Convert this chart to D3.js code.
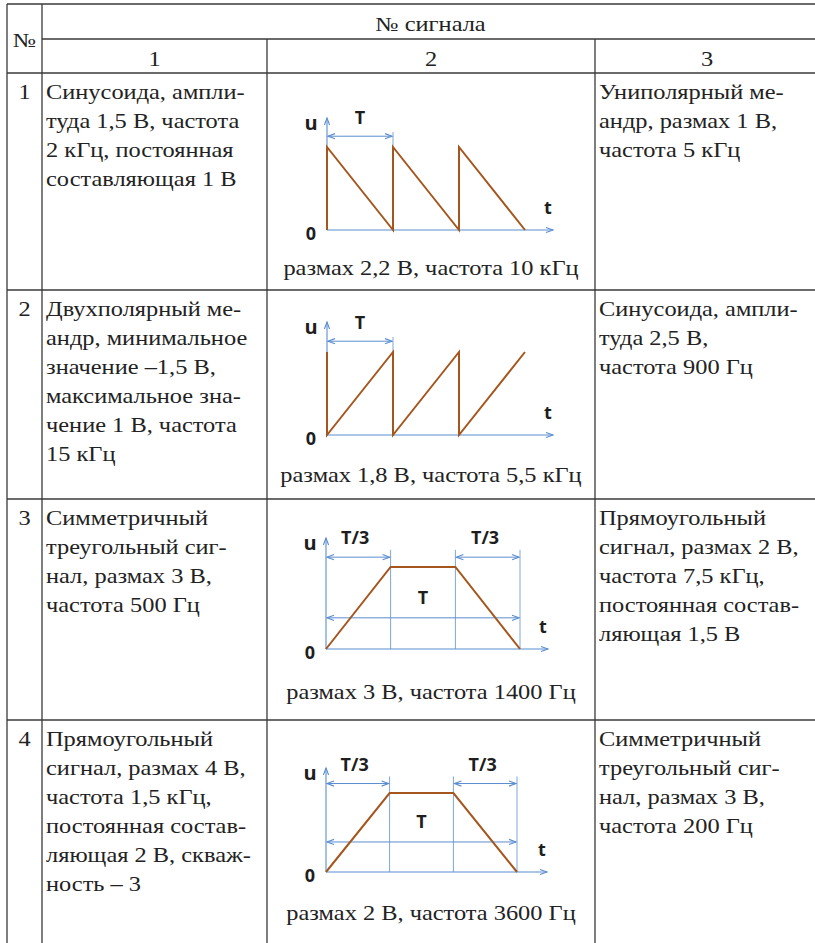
<!DOCTYPE html>
<html>
<head>
<meta charset="utf-8">
<script src="https://cdn.jsdelivr.net/npm/d3@7"></script>
<style>
  body { margin: 0; background: #fff; }
  svg { display: block; }
  .serif { font-family: 'Liberation Serif', 'Times New Roman', serif; font-size: 20px; fill: #222; }
  .lab { font-family: 'Open Sans', 'DejaVu Sans', sans-serif; font-weight: 700; font-size: 18px; fill: #1e1e1e; }
</style>
</head>
<body>
<svg id="chart" width="815" height="943"></svg>
<script>
// table content
const rowNums = ['1', '2', '3', '4'];
const colHeads = ['1', '2', '3'];
const headTitle = '№ сигнала';
const col1Text = [
  ['Синусоида, ампли-', 'туда 1,5 В, частота', '2 кГц, постоянная', 'составляющая 1 В'],
  ['Двухполярный ме-', 'андр, минимальное', 'значение –1,5 В,', 'максимальное зна-', 'чение 1 В, частота', '15 кГц'],
  ['Симметричный', 'треугольный сиг-', 'нал, размах 3 В,', 'частота 500 Гц'],
  ['Прямоугольный', 'сигнал, размах 4 В,', 'частота 1,5 кГц,', 'постоянная состав-', 'ляющая 2 В, скваж-', 'ность – 3']
];
const col3Text = [
  ['Униполярный ме-', 'андр, размах 1 В,', 'частота 5 кГц'],
  ['Синусоида, ампли-', 'туда 2,5 В,', 'частота 900 Гц'],
  ['Прямоугольный', 'сигнал, размах 2 В,', 'частота 7,5 кГц,', 'постоянная состав-', 'ляющая 1,5 В'],
  ['Симметричный', 'треугольный сиг-', 'нал, размах 3 В,', 'частота 200 Гц']
];
const captions = [
  'размах 2,2 В, частота 10 кГц',
  'размах 1,8 В, частота 5,5 кГц',
  'размах 3 В, частота 1400 Гц',
  'размах 2 В, частота 3600 Гц'
];

// waveforms, t in periods, u normalised to peak
const waveKinds = ['sawDown', 'sawUp', 'trap', 'trap'];
const sawDown = [[0, 0], [0, 1], [1, 0], [1, 1], [2, 0], [2, 1], [3, 0]];
const sawUp = [[0, 1], [0, 0], [1, 1], [1, 0], [2, 1], [2, 0], [3, 1]];
const trap = [[0, 0], [0.333, 1], [0.667, 1], [1, 0]];
const waves = { sawDown, sawUp, trap };

// layout
const W = 815, H = 943;
const colX = [7, 42, 267, 595];
const rowY = [4, 73, 290, 499, 720];
const headSplitY = 39;
const lineH = 29;
const stretch = 1.22; // book font is wider than Times
const gridC = '#3a3a3a';
const axisC = '#5b8dcf';
const guideC = '#7fa7da';
const waveC = '#a5561f';

// per-diagram geometry: origin, period width, peak height, axis lengths
const plots = [
  { ox: 327, oy: 230, w: 66, h: 83, xLen: 226, yLen: 112 },
  { ox: 327, oy: 435, w: 66, h: 83, xLen: 226, yLen: 113 },
  { ox: 326, oy: 649, w: 194, h: 82, xLen: 222, yLen: 111 },
  { ox: 326, oy: 872, w: 191, h: 79, xLen: 221, yLen: 104 }
];
const captionY = [275, 482, 699, 920];

const svg = d3.select('#chart');
svg.append('rect').attr('width', W).attr('height', H).attr('fill', '#fff');

const defs = svg.append('defs');
function marker(id, color) {
  defs.append('marker')
    .attr('id', id)
    .attr('viewBox', '-8 -4 10 8')
    .attr('refX', 0).attr('refY', 0)
    .attr('markerWidth', 10).attr('markerHeight', 8)
    .attr('markerUnits', 'userSpaceOnUse')
    .attr('orient', 'auto-start-reverse')
    .append('path')
    .attr('d', 'M-7,-2.6 L0,0 L-7,2.6')
    .attr('fill', 'none')
    .attr('stroke', color)
    .attr('stroke-width', 1.1);
}
marker('arrAxis', axisC);
marker('arrDim', axisC);

// table grid
const grid = svg.append('g').attr('stroke', gridC).attr('stroke-width', 1.3).attr('fill', 'none');
grid.append('line').attr('x1', colX[0]).attr('x2', W).attr('y1', rowY[0]).attr('y2', rowY[0]);
grid.append('line').attr('x1', colX[1]).attr('x2', W).attr('y1', headSplitY).attr('y2', headSplitY);
rowY.slice(1).forEach(y => {
  grid.append('line').attr('x1', colX[0]).attr('x2', W).attr('y1', y).attr('y2', y);
});
grid.append('line').attr('x1', colX[0]).attr('x2', colX[0]).attr('y1', rowY[0]).attr('y2', H);
grid.append('line').attr('x1', colX[1]).attr('x2', colX[1]).attr('y1', rowY[0]).attr('y2', H);
[colX[2], colX[3]].forEach(x => {
  grid.append('line').attr('x1', x).attr('x2', x).attr('y1', headSplitY).attr('y2', H);
});

const txt = svg.append('g');
function put(x, y, s, anchor) {
  txt.append('text')
    .attr('class', 'serif')
    .attr('transform', `translate(${x},${y}) scale(${stretch},1)`)
    .attr('text-anchor', anchor || 'start')
    .text(s);
}

// header
put((colX[0] + colX[1]) / 2, 47, '№', 'middle');
put((colX[1] + W) / 2 + 2, 31, headTitle, 'middle');
const headCx = [(colX[1] + colX[2]) / 2, (colX[2] + colX[3]) / 2, (colX[3] + W) / 2 + 2];
colHeads.forEach((h, i) => put(headCx[i], 66, h, 'middle'));

// body text
rowNums.forEach((n, i) => {
  const base = rowY[i + 1] + 26;
  put((colX[0] + colX[1]) / 2, base, n, 'middle');
  col1Text[i].forEach((line, j) => put(colX[1] + 4, base + j * lineH, line));
  col3Text[i].forEach((line, j) => put(colX[3] + 4, base + j * lineH, line));
  put((colX[2] + colX[3]) / 2, captionY[i], captions[i], 'middle');
});

// diagrams
function dim(g, x1, x2, y) {
  g.append('line')
    .attr('x1', x1 + 1).attr('x2', x2 - 1).attr('y1', y).attr('y2', y)
    .attr('stroke', axisC).attr('stroke-width', 1)
    .attr('marker-start', 'url(#arrDim)').attr('marker-end', 'url(#arrDim)');
}
function label(g, x, y, s, size) {
  const t = g.append('text').attr('class', 'lab').attr('x', x).attr('y', y)
    .attr('text-anchor', 'middle').text(s);
  if (size) t.style('font-size', size + 'px');
}

plots.forEach((p, i) => {
  const kind = waveKinds[i];
  const data = waves[kind];
  const x = d3.scaleLinear().domain([0, 1]).range([0, p.w]);
  const y = d3.scaleLinear().domain([0, 1]).range([0, -p.h]);
  const g = svg.append('g').attr('transform', `translate(${p.ox},${p.oy})`);

  if (kind === 'trap') {
    // guide lines at T/3, 2T/3, T
    [0.333, 0.667, 1].forEach(t => {
      g.append('line').attr('x1', x(t)).attr('x2', x(t)).attr('y1', y(1.21)).attr('y2', 0)
        .attr('stroke', guideC).attr('stroke-width', 1);
    });
    dim(g, x(0), x(0.333), y(1.12));
    dim(g, x(0.667), x(1), y(1.12));
    dim(g, x(0), x(1), y(0.38));
    label(g, x(0.15), y(1.12) - 13, 'T/3');
    label(g, x(0.82), y(1.12) - 13, 'T/3');
    label(g, x(0.5), y(0.38) - 14, 'T');
  } else {
    g.append('line').attr('x1', x(1)).attr('x2', x(1)).attr('y1', y(1.18)).attr('y2', 0)
      .attr('stroke', guideC).attr('stroke-width', 1);
    dim(g, x(0), x(1), y(1.13));
    label(g, x(0.5), y(1.13) - 12, 'T');
  }

  // axes
  g.append('line').attr('x1', 0).attr('x2', p.xLen).attr('y1', 0).attr('y2', 0)
    .attr('stroke', axisC).attr('stroke-width', 1.1).attr('marker-end', 'url(#arrAxis)');
  g.append('line').attr('x1', 0).attr('x2', 0).attr('y1', 0).attr('y2', -p.yLen)
    .attr('stroke', axisC).attr('stroke-width', 1.1).attr('marker-end', 'url(#arrAxis)');

  // waveform
  g.append('path')
    .attr('d', d3.line().x(d => x(d[0])).y(d => y(d[1]))(data))
    .attr('fill', 'none').attr('stroke', waveC).attr('stroke-width', 2)
    .attr('stroke-linejoin', 'miter');

  label(g, -16, -p.yLen + 12, 'u', 20);
  label(g, -16, 10, '0');
  label(g, p.xLen - 5, -16, 't');
});
</script>
</body>
</html>
